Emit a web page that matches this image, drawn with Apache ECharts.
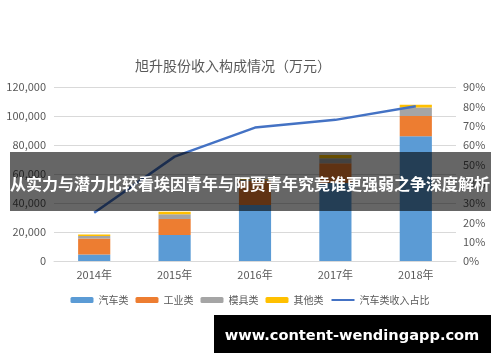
<!DOCTYPE html>
<html>
<head>
<meta charset="utf-8">
<script src="https://cdn.jsdelivr.net/npm/echarts@6/dist/echarts.min.js"></script>
<style>html,body{margin:0;padding:0;background:#fff;}#c{width:500px;height:362px;}</style>
</head>
<body>
<div id="c"></div>
<script>
const categories = ['2014年', '2015年', '2016年', '2017年', '2018年'];
const autoParts = [4500, 18000, 38600, 53800, 86000];
const industrial = [11000, 11000, 16600, 13600, 14000];
const molds = [1800, 3200, 900, 3400, 5800];
const others = [1000, 1800, 500, 2300, 2000];
const autoShare = [25, 54, 69, 73, 80];
const leftTicks = [0, 20000, 40000, 60000, 80000, 100000, 120000];
const rightTicks = [0, 10, 20, 30, 40, 50, 60, 70, 80, 90];

const FONT = '"Noto Sans CJK SC", "Noto Sans", sans-serif';
const URL_TEXT = 'www.content-wendingapp.com';
// fit URL text into the banner width
const cv = document.createElement('canvas').getContext('2d');
let urlSize = 18;
cv.font = 'bold 18px "DejaVu Sans", sans-serif';
const w18 = cv.measureText(URL_TEXT).width;
urlSize = Math.min(18, 18 * 255 / w18);

const chart = echarts.init(document.getElementById('c'));
const barBase = { type: 'bar', stack: 'rev', barWidth: '40%' };
chart.setOption({
  animation: false,
  textStyle: { fontFamily: FONT },
  title: {
    text: '旭升股份收入构成情况（万元）',
    left: 228, top: 54, textAlign: 'center',
    textStyle: { fontSize: 14, fontWeight: 'normal', color: '#595959', fontFamily: FONT }
  },
  grid: { left: 54, right: 44, top: 87, bottom: 101 },
  legend: {
    top: 290, left: 'center',
    itemWidth: 23, itemHeight: 6, itemGap: 7,
    textStyle: { fontSize: 10, color: '#595959', fontFamily: FONT },
    data: ['汽车类', '工业类', '模具类', '其他类',
      { name: '汽车类收入占比', itemStyle: { opacity: 0 } }]
  },
  xAxis: {
    type: 'category', data: categories,
    axisLine: { lineStyle: { color: '#D9D9D9' } },
    axisTick: { show: false },
    axisLabel: { color: '#595959', fontSize: 11, margin: 8 }
  },
  yAxis: [
    {
      type: 'value', min: leftTicks[0], max: leftTicks[leftTicks.length - 1], interval: 20000,
      axisLine: { show: false }, axisTick: { show: false },
      splitLine: { lineStyle: { color: '#D9D9D9' } },
      axisLabel: { color: '#595959', fontSize: 11, margin: 8,
        formatter: v => v.toLocaleString('en-US') }
    },
    {
      type: 'value', min: rightTicks[0], max: rightTicks[rightTicks.length - 1], interval: 10,
      axisLine: { show: false }, axisTick: { show: false },
      splitLine: { show: false },
      axisLabel: { color: '#595959', fontSize: 11, margin: 7, formatter: '{value}%' }
    }
  ],
  series: [
    Object.assign({}, barBase, { name: '汽车类', data: autoParts, itemStyle: { color: '#5B9BD5' } }),
    Object.assign({}, barBase, { name: '工业类', data: industrial, itemStyle: { color: '#ED7D31' } }),
    Object.assign({}, barBase, { name: '模具类', data: molds, itemStyle: { color: '#A5A5A5' } }),
    Object.assign({}, barBase, { name: '其他类', data: others, itemStyle: { color: '#FFC000' } }),
    {
      name: '汽车类收入占比', type: 'line', yAxisIndex: 1, data: autoShare,
      symbol: 'none', lineStyle: { color: '#4472C4', width: 2.5 }, itemStyle: { color: '#4472C4' }
    }
  ],
  graphic: [
    { type: 'rect', z: 100, shape: { x: 10, y: 152, width: 481, height: 59 },
      style: { fill: 'rgba(0,0,0,0.6)' } },
    { type: 'text', z: 101, x: 250, y: 184,
      style: { text: '从实力与潜力比较看埃因青年与阿贾青年究竟谁更强弱之争深度解析',
        fill: '#fff', font: 'bold 16px ' + FONT, textAlign: 'center', textVerticalAlign: 'middle' } },
    { type: 'rect', z: 100, shape: { x: 214, y: 315, width: 277, height: 38 },
      style: { fill: '#000' } },
    { type: 'text', z: 101, x: 352, y: 336,
      style: { text: URL_TEXT,
        fill: '#fff', font: 'bold ' + urlSize.toFixed(1) + 'px "DejaVu Sans", sans-serif', textAlign: 'center', textVerticalAlign: 'middle' } }
  ]
});
</script>
</body>
</html>
